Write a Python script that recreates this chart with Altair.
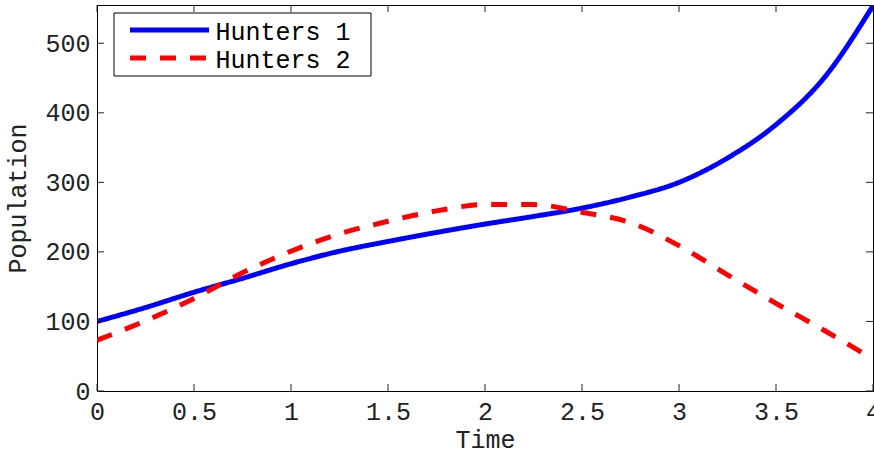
import altair as alt
import pandas as pd

# Simulated hunter populations sampled every quarter time unit
time = [0, 0.25, 0.5, 0.75, 1, 1.25, 1.5, 1.75, 2, 2.25, 2.5, 2.75, 3, 3.25, 3.5, 3.75, 4]
hunters_1 = [100, 120, 142, 162, 183, 201, 215, 228, 240, 251, 263, 279, 300, 335, 383, 451, 554]
hunters_2 = [73, 101, 133, 170, 201, 226, 244, 259, 268, 268, 257, 242, 209, 167, 126, 87, 46]

series = ["Hunters 1", "Hunters 2"]
colors = ["#0000ff", "#ff0000"]
dashes = [[1, 0], [16, 14]]

x_ticks = [0, 0.5, 1, 1.5, 2, 2.5, 3, 3.5, 4]
y_ticks = [0, 100, 200, 300, 400, 500]

W, H = 776, 386
FONT = "Liberation Mono"
FS = 25
TICK = 7

df = pd.concat(
    [
        pd.DataFrame({"t": time, "pop": hunters_1, "series": series[0]}),
        pd.DataFrame({"t": time, "pop": hunters_2, "series": series[1]}),
    ],
    ignore_index=True,
)

x_scale = alt.Scale(domain=[0, 4], nice=False, zero=False)
y_scale = alt.Scale(domain=[0, 555], nice=False, zero=False)
color_scale = alt.Scale(domain=series, range=colors)
dash_scale = alt.Scale(domain=series, range=dashes)

x_axis = alt.Axis(
    values=x_ticks, format="~g", title="Time", ticks=False, tickSize=0, domain=False,
    grid=False, labelFlush=False, labelOverlap=False, labelBound=False,
    labelPadding=8, titleY=56, titleBaseline="alphabetic",
)
y_axis = alt.Axis(
    values=y_ticks, title="Population", ticks=False, tickSize=0, domain=False,
    grid=False, labelPadding=7, labelOverlap=False,
    titleX=-72, titleY=H / 2, titleAngle=270, titleBaseline="alphabetic", titleAlign="center",
)

lines = alt.Chart(df).mark_line(strokeWidth=5, clip=True, interpolate="monotone").encode(
    x=alt.X("t:Q", scale=x_scale, axis=x_axis),
    y=alt.Y("pop:Q", scale=y_scale, axis=y_axis),
    color=alt.Color("series:N", scale=color_scale, legend=None),
    strokeDash=alt.StrokeDash("series:N", scale=dash_scale, legend=None),
)

# Inward tick marks on all four sides of the frame
xt = pd.DataFrame({"t": x_ticks})
yt = pd.DataFrame({"pop": y_ticks})
tick_style = dict(color="#222222", strokeWidth=1)
ticks_bottom = alt.Chart(xt).mark_rule(**tick_style).encode(
    x=alt.X("t:Q", scale=x_scale), y=alt.value(H), y2=alt.value(H - TICK))
ticks_top = alt.Chart(xt).mark_rule(**tick_style).encode(
    x=alt.X("t:Q", scale=x_scale), y=alt.value(0), y2=alt.value(TICK))
ticks_left = alt.Chart(yt).mark_rule(**tick_style).encode(
    y=alt.Y("pop:Q", scale=y_scale), x=alt.value(0), x2=alt.value(TICK))
ticks_right = alt.Chart(yt).mark_rule(**tick_style).encode(
    y=alt.Y("pop:Q", scale=y_scale), x=alt.value(W - TICK), x2=alt.value(W))

# Legend box in the upper-left corner
legend_df = pd.DataFrame({"series": series})
box = alt.Chart(pd.DataFrame({"k": [0]})).mark_rect(
    fill="white", stroke="black", strokeWidth=1
).encode(x=alt.value(17), x2=alt.value(274), y=alt.value(8), y2=alt.value(71))

legend_layers = [box]
row_y = [25, 53]
for name, ry in zip(series, row_y):
    base = alt.Chart(legend_df).transform_filter(alt.datum.series == name)
    legend_layers.append(
        base.mark_rule(strokeWidth=5).encode(
            x=alt.value(33), x2=alt.value(112), y=alt.value(ry),
            color=alt.Color("series:N", scale=color_scale, legend=None),
            strokeDash=alt.StrokeDash("series:N", scale=dash_scale, legend=None),
        )
    )
    legend_layers.append(
        base.mark_text(align="left", baseline="alphabetic", font=FONT, fontSize=FS, color="black").encode(
            x=alt.value(118.5), y=alt.value(ry + 9.5), text="series:N"
        )
    )

chart = alt.layer(
    lines, ticks_bottom, ticks_top, ticks_left, ticks_right, *legend_layers
).properties(
    width=W,
    height=H,
    background="white",
    autosize=alt.AutoSizeParams(type="none"),
    padding={"left": 97, "top": 5, "right": 1, "bottom": 63},
).configure_view(
    stroke="black", strokeWidth=1
).configure_axis(
    labelFont=FONT, labelFontSize=FS, labelColor="#222222",
    titleFont=FONT, titleFontSize=FS, titleFontWeight="normal", titleColor="#222222",
)

chart.save("out.html", embed_options={"renderer": "svg", "actions": False})
